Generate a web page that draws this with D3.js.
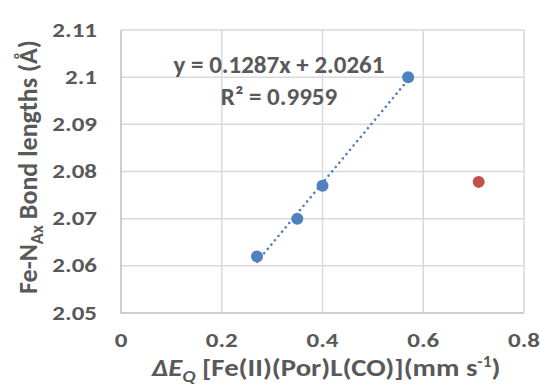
<!DOCTYPE html>
<html>
<head>
<meta charset="utf-8">
<script src="https://cdn.jsdelivr.net/npm/d3@7"></script>
<style>
  body { margin: 0; background: #fff; }
  text { font-family: Carlito, Lato, "Open Sans", sans-serif; font-weight: bold; fill: #595959; }
</style>
</head>
<body>
<div id="chart"></div>
<script>
var blueX = [0.27, 0.35, 0.40, 0.57];
var blueY = [2.062, 2.070, 2.077, 2.100];
var redX = [0.71];
var redY = [2.0778];
var xTicks = [0, 0.2, 0.4, 0.6, 0.8];
var yTicks = [2.05, 2.06, 2.07, 2.08, 2.09, 2.1, 2.11];
var slope = 0.1287, intercept = 2.0261;

var width = 541, height = 390;
var svg = d3.select("#chart").append("svg")
    .attr("width", width)
    .attr("height", height);

var x = d3.scaleLinear().domain([0, 0.8]).range([121, 524]);
var y = d3.scaleLinear().domain([2.05, 2.11]).range([313, 30]);

// grid
svg.selectAll(".gx").data(xTicks.slice(1)).enter().append("line")
    .attr("x1", d => x(d)).attr("x2", d => x(d))
    .attr("y1", y(2.05)).attr("y2", y(2.11))
    .style("stroke", "#d9d9d9").style("stroke-width", 1.5);
svg.selectAll(".gy").data(yTicks.slice(1)).enter().append("line")
    .attr("x1", x(0)).attr("x2", x(0.8))
    .attr("y1", d => y(d)).attr("y2", d => y(d))
    .style("stroke", "#d9d9d9").style("stroke-width", 1.5);

// axes lines
svg.append("line").attr("x1", x(0)).attr("x2", x(0.8)).attr("y1", y(2.05)).attr("y2", y(2.05))
    .style("stroke", "#bfbfbf").style("stroke-width", 1.5);
svg.append("line").attr("x1", x(0)).attr("x2", x(0)).attr("y1", y(2.05)).attr("y2", y(2.11))
    .style("stroke", "#bfbfbf").style("stroke-width", 1.5);

// tick labels (a bit wider than tall, like the original)
svg.selectAll(".tx").data(xTicks).enter().append("text")
    .attr("transform", d => "translate(" + x(d) + ",347) scale(1.25,1)")
    .attr("text-anchor", "middle")
    .style("font-size", "20px")
    .text(d => d === 0 ? "0" : d3.format(".1f")(d));
svg.selectAll(".ty").data(yTicks).enter().append("text")
    .attr("transform", d => "translate(97," + (y(d) + 6.5) + ") scale(1.25,1)")
    .attr("text-anchor", "end")
    .style("font-size", "20px")
    .text(d => d3.format("")(+d.toFixed(2)));

// trendline
var tx0 = 0.27, tx1 = 0.57;
svg.append("line")
    .attr("x1", x(tx0)).attr("y1", y(slope * tx0 + intercept))
    .attr("x2", x(tx1)).attr("y2", y(slope * tx1 + intercept))
    .style("stroke", "#4a7ebb").style("stroke-width", 2.5)
    .style("stroke-dasharray", "0.1 5.5").style("stroke-linecap", "round");

// points
svg.selectAll(".pb").data(blueX).enter().append("circle")
    .attr("cx", d => x(d)).attr("cy", (d, i) => y(blueY[i]))
    .attr("r", 6).style("fill", "#4f81bd");
svg.selectAll(".pr").data(redX).enter().append("circle")
    .attr("cx", d => x(d)).attr("cy", (d, i) => y(redY[i]))
    .attr("r", 6).style("fill", "#c0504d");

// equation
svg.append("text").attr("x", 279).attr("y", 73).attr("text-anchor", "middle")
    .style("font-size", "25px").text("y = 0.1287x + 2.0261");
svg.append("text").attr("x", 279).attr("y", 105).attr("text-anchor", "middle")
    .style("font-size", "25px").text("R² = 0.9959");

// y axis title
var yt = svg.append("text")
    .attr("transform", "translate(37,167) rotate(-90)")
    .attr("text-anchor", "middle")
    .style("font-size", "26px");
yt.append("tspan").text("Fe-N");
yt.append("tspan").attr("dy", 6).style("font-size", "18px").text("Ax");
yt.append("tspan").attr("dy", -6).text("  Bond lengths (Å)");

// x axis title
var xt = svg.append("text")
    .attr("transform", "translate(326,376) scale(1.15,1)")
    .attr("text-anchor", "middle")
    .style("font-size", "25px");
xt.append("tspan").style("font-style", "italic").text("ΔE");
xt.append("tspan").attr("dy", 6).style("font-style", "italic").style("font-size", "17px").text("Q");
xt.append("tspan").attr("dy", -6).text("  [Fe(II)(Por)L(CO)](mm s");
xt.append("tspan").attr("dy", -9).style("font-size", "15px").text("-1");
xt.append("tspan").attr("dy", 9).text(")");
</script>
</body>
</html>
